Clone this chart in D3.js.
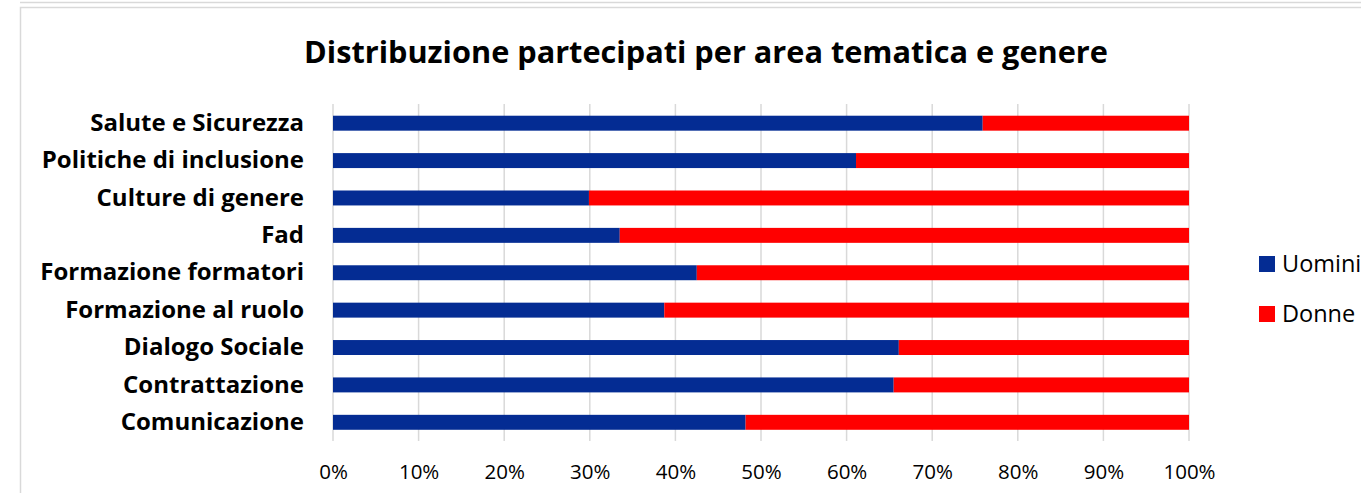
<!DOCTYPE html>
<html>
<head>
<meta charset="utf-8">
<script src="https://cdn.jsdelivr.net/npm/d3@7"></script>
<style>
body{margin:0;background:#fff;}
</style>
</head>
<body>
<div id="chart"></div>
<script>
// dati (quota uomini, il resto sono donne)
var categorie = ["Salute e Sicurezza","Politiche di inclusione","Culture di genere","Fad","Formazione formatori","Formazione al ruolo","Dialogo Sociale","Contrattazione","Comunicazione"];
var uomini = [75.9, 61.1, 29.9, 33.5, 42.5, 38.7, 66.1, 65.5, 48.2];
var donne = uomini.map(function(u){ return 100-u; });
var serie = ["Uomini","Donne"];
var colori = ["#042C93","#FF0000"];
var ticks = [0,10,20,30,40,50,60,70,80,90,100];

var font = "'Open Sans', 'Liberation Sans', sans-serif";
var width=1361, height=493;
var svg = d3.select("#chart").append("svg").attr("width",width).attr("height",height)
  .style("font-family",font);

// cornice
svg.append("line").attr("x1",20).attr("x2",width).attr("y1",2.5).attr("y2",2.5)
  .attr("stroke","#d9d9d9").attr("stroke-width",1.5);
svg.append("rect").attr("x",20.5).attr("y",7.5).attr("width",width).attr("height",height)
  .attr("fill","none").attr("stroke","#d9d9d9").attr("stroke-width",1.5);

svg.append("text").attr("x",706).attr("y",63).attr("text-anchor","middle")
  .style("font-size","30.7px").style("font-weight","bold").attr("fill","#000")
  .text("Distribuzione partecipati per area tematica e genere");

var x = d3.scaleLinear().domain([0,100]).range([333,1189]);
var y = d3.scaleBand().domain(categorie).range([104.5,441]).paddingInner(0.6).paddingOuter(0.3);

// griglia
svg.append("g").selectAll("line").data(ticks).enter().append("line")
  .attr("x1",function(d){return x(d);}).attr("x2",function(d){return x(d);})
  .attr("y1",104).attr("y2",441)
  .attr("stroke","#d9d9d9").attr("stroke-width",1.5);

var stack = d3.stack().keys(serie)(categorie.map(function(c,i){ return {cat:c, Uomini:uomini[i], Donne:donne[i]}; }));

svg.append("g").selectAll("g").data(stack).enter().append("g")
  .attr("fill",function(d,i){return colori[i];})
  .selectAll("rect").data(function(d){return d;}).enter().append("rect")
  .attr("x",function(d){return x(d[0]);})
  .attr("width",function(d){return x(d[1])-x(d[0]);})
  .attr("y",function(d){return y(d.data.cat);})
  .attr("height",y.bandwidth());

// asse x
var asseX = d3.axisBottom(x).tickValues(ticks).tickFormat(function(d){return d+"%";}).tickSize(0).tickPadding(0);
var gx = svg.append("g").attr("transform","translate(0,472)").call(asseX).attr("font-family",font);
gx.select(".domain").remove();
gx.selectAll("text").style("font-size","20.5px").attr("fill","#000").attr("dy","0.32em");

// etichette categorie
var asseY = d3.axisLeft(y).tickSize(0).tickPadding(0);
var gy = svg.append("g").attr("transform","translate(304,0)").call(asseY).attr("font-family",font);
gy.select(".domain").remove();
gy.selectAll("text").style("font-size","24px").style("font-weight","bold").attr("fill","#000");

// legenda
var leg = svg.append("g").selectAll("g").data(serie).enter().append("g")
  .attr("transform",function(d,i){return "translate(1259,"+(256+i*50)+")";});
leg.append("rect").attr("width",16).attr("height",16).attr("fill",function(d,i){return colori[i];});
leg.append("text").attr("x",23).attr("y",8).attr("dy","0.35em").style("font-size","23.5px").attr("fill","#000").text(function(d){return d;});
</script>
</body>
</html>
